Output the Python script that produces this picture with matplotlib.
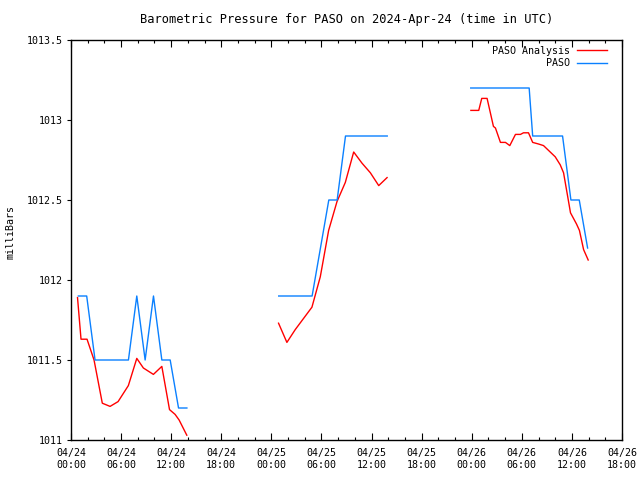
import matplotlib
matplotlib.use("Agg")
import matplotlib.pyplot as plt
from matplotlib.ticker import MultipleLocator
import numpy as np

# hours since 2024-04-24 00:00 UTC, nan = gap in record
obs_hours = [0.88, 1.88, 2.88, 3.88, 4.88, 5.88, 6.88, 7.88, 8.88, 9.88, 10.88, 11.88, 12.88, 13.88,
             np.nan,
             24.88, 25.88, 26.88, 27.88, 28.88, 29.88, 30.88, 31.88, 32.88, 33.88, 34.88, 35.88, 36.88, 37.88,
             np.nan,
             47.88, 48.88, 49.88, 50.88, 51.88, 52.88, 53.88, 54.88, 55.3, 55.88, 56.88, 57.88, 58.88,
             59.88, 60.88, 61.88]
obs_mb = [1011.9, 1011.9, 1011.5, 1011.5, 1011.5, 1011.5, 1011.5, 1011.9, 1011.5, 1011.9, 1011.5, 1011.5, 1011.2, 1011.2,
          np.nan,
          1011.9, 1011.9, 1011.9, 1011.9, 1011.9, 1012.2, 1012.5, 1012.5, 1012.9, 1012.9, 1012.9, 1012.9, 1012.9, 1012.9,
          np.nan,
          1013.2, 1013.2, 1013.2, 1013.2, 1013.2, 1013.2, 1013.2, 1013.2, 1012.9, 1012.9, 1012.9, 1012.9, 1012.9,
          1012.5, 1012.5, 1012.2]

ana_hours = [0.78, 1.2, 1.92, 2.76, 3.75, 4.68, 5.64, 6.87, 7.88, 8.67, 9.87, 10.88, 11.8, 12.47, 12.95, 13.87,
             np.nan,
             24.86, 25.86, 26.86, 27.86, 28.86, 29.86, 30.86, 31.86, 32.86, 33.86, 34.86, 35.86, 36.86, 37.86,
             np.nan,
             47.9, 48.84, 49.2, 49.84, 50.6, 50.84, 51.44, 52.04, 52.56, 53.24, 53.84, 54.2, 54.8, 55.3,
             56.0, 56.6, 57.2, 58.0, 58.6, 59.0, 59.5, 59.83, 60.55, 60.9, 61.4, 61.95]
ana_mb = [1011.89, 1011.63, 1011.63, 1011.5, 1011.23, 1011.21, 1011.24, 1011.34, 1011.51, 1011.45, 1011.41, 1011.46,
          1011.19, 1011.16, 1011.125, 1011.03,
          np.nan,
          1011.73, 1011.61, 1011.69, 1011.76, 1011.83, 1012.02, 1012.31, 1012.49, 1012.61, 1012.80, 1012.73, 1012.67,
          1012.59, 1012.64,
          np.nan,
          1013.06, 1013.06, 1013.135, 1013.135, 1012.96, 1012.95, 1012.86, 1012.86, 1012.84, 1012.91, 1012.91,
          1012.92, 1012.92, 1012.86, 1012.85, 1012.84, 1012.81, 1012.77, 1012.72, 1012.67, 1012.52, 1012.42,
          1012.35, 1012.31, 1012.19, 1012.125]

tick_hours = [0, 6, 12, 18, 24, 30, 36, 42, 48, 54, 60, 66]
tick_labels = ["04/24\n00:00", "04/24\n06:00", "04/24\n12:00", "04/24\n18:00",
               "04/25\n00:00", "04/25\n06:00", "04/25\n12:00", "04/25\n18:00",
               "04/26\n00:00", "04/26\n06:00", "04/26\n12:00", "04/26\n18:00"]
ytick_vals = [1011, 1011.5, 1012, 1012.5, 1013, 1013.5]
ytick_labels = ['1011', '1011.5', '1012', '1012.5', '1013', '1013.5']

plt.rcParams['font.family'] = ['DejaVu Sans Mono']
plt.rcParams['font.size'] = 7.2

fig = plt.figure(figsize=(6.4, 4.8), dpi=100)
ax = fig.add_axes([71/640, 40/480, 551/640, 400/480])

ax.plot(ana_hours, ana_mb, color='#ff0000', lw=1.0, label='PASO Analysis')
ax.plot(obs_hours, obs_mb, color='#0a80ff', lw=1.0, label='         PASO')

ax.set_xlim(0, 66)
ax.set_ylim(1011, 1013.5)
ax.set_xticks(tick_hours)
ax.set_xticklabels(tick_labels, linespacing=1.25)
ax.xaxis.set_minor_locator(MultipleLocator(2))
ax.set_yticks(ytick_vals)
ax.set_yticklabels(ytick_labels)

ax.tick_params(axis='x', which='both', direction='in', top=True, pad=6)
ax.tick_params(axis='x', which='major', length=5, width=0.8)
ax.tick_params(axis='x', which='minor', length=2.5, width=0.8)
ax.tick_params(axis='y', which='major', direction='out', length=3, width=0.8, pad=3)
for s in ax.spines.values():
    s.set_linewidth(1.0)

ax.set_ylabel('milliBars')
ax.yaxis.set_label_coords(-0.1, 0.52)
ax.set_title('Barometric Pressure for PASO on 2024-Apr-24 (time in UTC)', pad=12.5)

ax.legend(loc='upper right', bbox_to_anchor=(0.98, 0.995), frameon=False, markerfirst=False,
          handlelength=3.0, handletextpad=0.7, labelspacing=0.25, borderaxespad=0.0)

fig.savefig('out.png', dpi=100)
